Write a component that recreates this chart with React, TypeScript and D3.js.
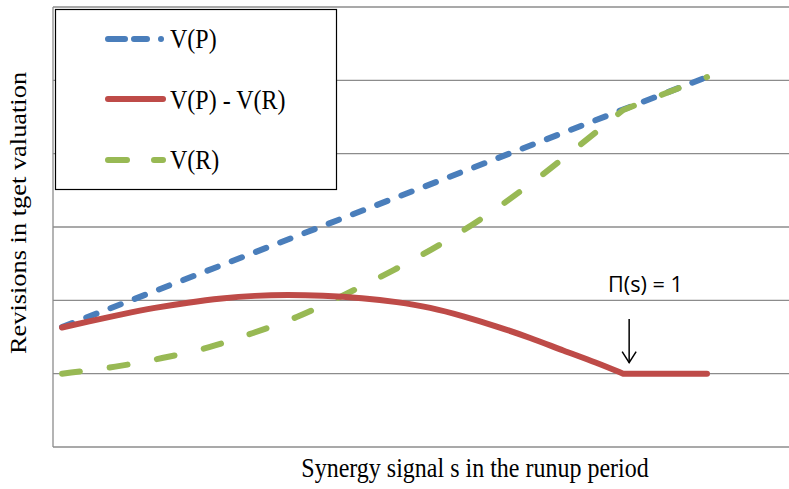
import React from "react";
import * as d3 from "d3";

// ---- data ----
const gridTicks = [0, 1, 2, 3, 4, 5, 6];

const vpS = [0, 1];
const vpY = [1.636, 5.045];

const diffS = [0, 0.04, 0.093, 0.144, 0.195, 0.248, 0.299, 0.35, 0.403, 0.467, 0.519, 0.571, 0.622, 0.674, 0.726, 0.777, 0.829, 0.87];
const diffY = [1.63, 1.71, 1.81, 1.9, 1.97, 2.03, 2.065, 2.075, 2.065, 2.03, 1.98, 1.905, 1.785, 1.645, 1.49, 1.315, 1.15, 1.0];
const diffFlatS = [0.87, 1.0];
const diffFlatY = [1.0, 1.0];

const vrS = [0, 0.085, 0.157, 0.229, 0.296, 0.364, 0.431, 0.513, 0.602, 0.695, 0.798, 0.87];
const vrY = [1.0, 1.091, 1.214, 1.35, 1.555, 1.759, 2.045, 2.4, 2.83, 3.368, 4.077, 4.596];
const vrTailS = [1.0];
const vrTailY = [5.045];

const legendLabels = ["V(P)", "V(P) - V(R)", "V(R)"];
const annotation = "Π(s) = 1";
const annotationS = 0.87;
const xTitle = "Synergy signal s in the runup period";
const yTitle = "Revisions in tget valuation";

const BLUE = "#4A7EBB";
const RED = "#BE4B48";
const GREEN = "#98B954";
const GRID = "#8C8C8C";

export default function App() {
  const W = 789;
  const H = 489;
  const plotLeft = 53;
  const plotRight = 789;
  const x = d3.scaleLinear().domain([0, 1]).range([62, 707]);
  const y = d3.scaleLinear().domain([0, 6]).range([447, 7]);

  const pts = (s: number[], v: number[]) => s.map((d, i) => [d, v[i]] as [number, number]);
  const smooth = d3
    .line<[number, number]>()
    .x((d) => x(d[0]))
    .y((d) => y(d[1]))
    .curve(d3.curveBasis);
  const straight = d3
    .line<[number, number]>()
    .x((d) => x(d[0]))
    .y((d) => y(d[1]));

  const vpPath = straight(pts(vpS, vpY)) || "";
  const diffPath =
    (smooth(pts(diffS, diffY)) || "") +
    pts(diffFlatS, diffFlatY)
      .map((p) => `L${x(p[0])},${y(p[1])}`)
      .join("");
  const vrPath =
    (smooth(pts(vrS, vrY)) || "") +
    pts(vrTailS, vrTailY)
      .map((p) => `L${x(p[0])},${y(p[1])}`)
      .join("");

  const serif = "'Liberation Serif', 'Times New Roman', serif";
  const sy = 1.1;

  const legendRows = [
    { label: legendLabels[0], color: BLUE, dash: "17,9,13,14,0.01,50", ly: 39, ty: 48 },
    { label: legendLabels[1], color: RED, dash: "none", ly: 99, ty: 109 },
    { label: legendLabels[2], color: GREEN, dash: "19,27,11,50", ly: 160, ty: 169 },
  ];

  const ax = x(annotationS) + 6;
  const kinkY = y(1);

  return (
    <svg width={W} height={H} style={{ position: "absolute", left: 0, top: 0, background: "#fff" }}>
      <rect x={0} y={0} width={W} height={H} fill="#fff" />
      {/* gridlines */}
      {gridTicks.map((t) => (
        <line key={t} x1={plotLeft} x2={plotRight} y1={y(t)} y2={y(t)} stroke={GRID} strokeWidth={1.3} />
      ))}
      {/* left axis */}
      <line x1={plotLeft} x2={plotLeft} y1={y(6)} y2={y(0)} stroke={GRID} strokeWidth={1.3} />

      {/* series */}
      <path d={vpPath} fill="none" stroke={BLUE} strokeWidth={6} strokeDasharray="11,15" strokeLinecap="round" />
      <path d={vrPath} fill="none" stroke={GREEN} strokeWidth={6} strokeDasharray="18,30" strokeLinecap="round" strokeLinejoin="round" />
      <path d={diffPath} fill="none" stroke={RED} strokeWidth={6} strokeLinecap="round" strokeLinejoin="round" />

      {/* annotation */}
      <text
        fontFamily="'Open Sans', 'Noto Sans', sans-serif"
        fontSize={20}
        fill="#000"
        textLength={75}
        lengthAdjust="spacingAndGlyphs"
        transform={`translate(608,292) scale(1,${sy})`}
      >
        {annotation}
      </text>
      <line x1={ax} x2={ax} y1={319} y2={kinkY - 11} stroke="#000" strokeWidth={1.5} />
      <path d={`M${ax - 7},${kinkY - 22} L${ax},${kinkY - 11} L${ax + 7},${kinkY - 22}`} fill="none" stroke="#000" strokeWidth={1.5} />

      {/* legend */}
      <rect x={55.5} y={9.5} width={281} height={180} fill="#fff" stroke="#000" strokeWidth={1.2} />
      {legendRows.map((r) => (
        <g key={r.label}>
          <line x1={108} x2={163} y1={r.ly} y2={r.ly} stroke={r.color} strokeWidth={6} strokeLinecap="round" strokeDasharray={r.dash} />
          <text fontFamily={serif} fontSize={24} fill="#000" transform={`translate(170,${r.ty}) scale(1,${sy})`}>
            {r.label}
          </text>
        </g>
      ))}

      {/* axis titles */}
      <text fontFamily={serif} fontSize={24} fill="#000" textAnchor="middle" transform={`translate(475,477) scale(1,${sy})`}>
        {xTitle}
      </text>
      <text fontFamily={serif} fontSize={24} fill="#000" textAnchor="middle" transform={`translate(26,213) rotate(-90) scale(${sy},1)`}>
        {yTitle}
      </text>
    </svg>
  );
}
